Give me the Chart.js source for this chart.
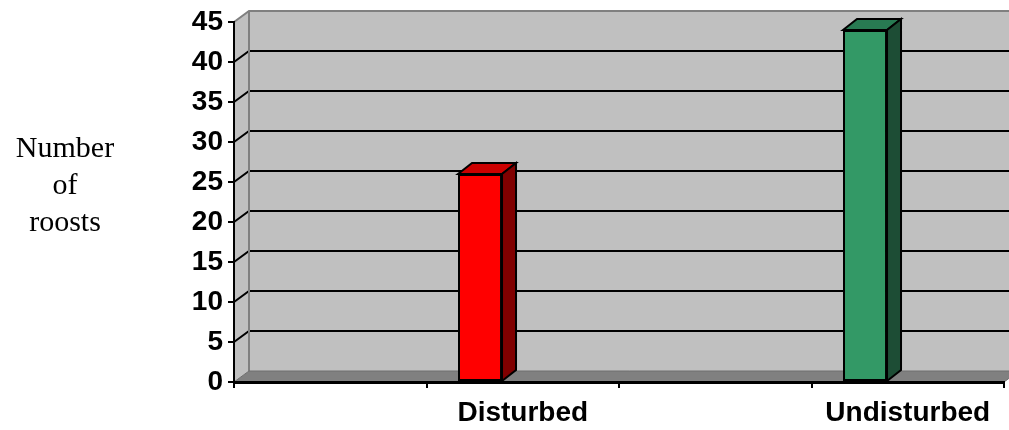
<!DOCTYPE html>
<html>
<head>
<meta charset="utf-8">
<script src="https://cdn.jsdelivr.net/npm/chart.js@4/dist/chart.umd.min.js"></script>
<style>
  html, body { margin: 0; padding: 0; background: #ffffff; }
  canvas { display: block; }
</style>
</head>
<body>
<canvas id="roostChart" width="1009" height="430"></canvas>
<script>
// Category slots along the floor; the first and third carry no label
const categories = ['', 'Disturbed', '', 'Undisturbed'];
// Number of roosts in each slot
const roosts = [null, 26, null, 44];
// Second series slot, left empty so each column sits left of its category centre
const emptySlot = [null, null, null, null];
// Value axis ticks
const yTicks = [0, 5, 10, 15, 20, 25, 30, 35, 40, 45];
// Value axis title, one word per line
const yTitleLines = ['Number', 'of', 'roosts'];

// Styling
const frontColors = ['#FF0000', '#FF0000', '#339966', '#339966'];
const topColors   = ['#CC0000', '#CC0000', '#287A52', '#287A52'];
const sideColors  = ['#800000', '#800000', '#1D4D35', '#1D4D35'];
const WALL_DX = 15, BAR_DX = 14, DEPTH_DY = 11;

function poly(ctx, pts) {
  ctx.beginPath();
  ctx.moveTo(pts[0][0], pts[0][1]);
  for (let i = 1; i < pts.length; i++) ctx.lineTo(pts[i][0], pts[i][1]);
  ctx.closePath();
}

// Walls, floor and the gridlines that run across the back wall
const backdrop = {
  id: 'backdrop',
  beforeDraw(chart) {
    const { ctx, chartArea: a, scales: { y } } = chart;
    const W = chart.width;
    const bx = a.left + WALL_DX;
    ctx.save();
    ctx.fillStyle = '#C0C0C0';
    ctx.fillRect(bx, a.top - DEPTH_DY, W - bx, a.bottom - a.top);
    poly(ctx, [[a.left, a.top], [bx, a.top - DEPTH_DY], [bx, a.bottom - DEPTH_DY], [a.left, a.bottom]]);
    ctx.fill();
    ctx.fillStyle = '#808080';
    poly(ctx, [[a.left, a.bottom], [bx, a.bottom - DEPTH_DY], [a.right + WALL_DX, a.bottom - DEPTH_DY], [a.right, a.bottom]]);
    ctx.fill();

    ctx.strokeStyle = '#000000';
    ctx.lineWidth = 2;
    yTicks.slice(1, -1).forEach(v => {
      const py = Math.round(y.getPixelForValue(v));
      ctx.beginPath();
      ctx.moveTo(a.left, py);
      ctx.lineTo(bx, py - DEPTH_DY);
      ctx.lineTo(W, py - DEPTH_DY);
      ctx.stroke();
    });

    ctx.strokeStyle = '#808080';
    ctx.lineWidth = 2;
    ctx.beginPath();
    ctx.moveTo(a.left, a.top);
    ctx.lineTo(bx, a.top - DEPTH_DY);
    ctx.lineTo(W, a.top - DEPTH_DY);
    ctx.moveTo(bx, a.top - DEPTH_DY);
    ctx.lineTo(bx, a.bottom - DEPTH_DY);
    ctx.stroke();

    ctx.strokeStyle = '#6E6E6E';
    ctx.lineWidth = 1;
    ctx.beginPath();
    ctx.moveTo(a.left, a.bottom);
    ctx.lineTo(bx, a.bottom - DEPTH_DY);
    ctx.lineTo(a.right + WALL_DX, a.bottom - DEPTH_DY);
    ctx.lineTo(a.right, a.bottom);
    ctx.stroke();

    // Horizontal value-axis title at the left
    ctx.fillStyle = '#000000';
    ctx.font = '30px "Liberation Serif", "Times New Roman", serif';
    ctx.textAlign = 'center';
    ctx.textBaseline = 'alphabetic';
    const baselines = [157, 194, 231];
    yTitleLines.forEach((t, i) => ctx.fillText(t, 65, baselines[i]));
    ctx.restore();
  }
};

// Top and side faces that give each column its depth
const columnFaces = {
  id: 'columnFaces',
  afterDatasetsDraw(chart) {
    const { ctx } = chart;
    const meta = chart.getDatasetMeta(0);
    ctx.save();
    ctx.strokeStyle = '#000000';
    ctx.lineWidth = 2;
    ctx.lineJoin = 'miter';
    meta.data.forEach((bar, i) => {
      if (roosts[i] == null) return;
      const { x, y, base, width } = bar.getProps(['x', 'y', 'base', 'width'], true);
      const l = x - width / 2, r = x + width / 2;
      ctx.fillStyle = topColors[i];
      poly(ctx, [[l, y], [l + BAR_DX, y - DEPTH_DY], [r + BAR_DX, y - DEPTH_DY], [r, y]]);
      ctx.fill(); ctx.stroke();
      ctx.fillStyle = sideColors[i];
      poly(ctx, [[r, y], [r + BAR_DX, y - DEPTH_DY], [r + BAR_DX, base - DEPTH_DY], [r, base]]);
      ctx.fill(); ctx.stroke();
    });
    ctx.restore();
  }
};

const tickFont = { family: '"Liberation Sans", Arial, sans-serif', size: 28, weight: 'bold' };

new Chart(document.getElementById('roostChart'), {
  type: 'bar',
  data: {
    labels: categories,
    datasets: [
      {
        label: 'Roosts',
        data: roosts,
        backgroundColor: frontColors,
        borderColor: '#000000',
        borderWidth: 2,
        borderSkipped: false,
        categoryPercentage: 0.888,
        barPercentage: 0.515
      },
      {
        label: 'Empty slot',
        data: emptySlot,
        categoryPercentage: 0.888,
        barPercentage: 0.515
      }
    ]
  },
  options: {
    responsive: false,
    animation: false,
    devicePixelRatio: 1,
    layout: { padding: { top: 22, right: 5, left: 0, bottom: 0 } },
    plugins: { legend: { display: false }, tooltip: { enabled: false } },
    scales: {
      x: {
        afterFit(scale) { scale.height = 48; },
        grid: { display: true, drawOnChartArea: false, drawTicks: true, tickLength: 6, color: '#000000', lineWidth: 2, offset: true },
        border: { display: true, color: '#000000', width: 3 },
        ticks: { color: '#000000', font: tickFont, padding: 8, maxRotation: 0, autoSkip: false }
      },
      y: {
        min: yTicks[0],
        max: yTicks[yTicks.length - 1],
        afterFit(scale) { scale.width = 234; },
        afterBuildTicks(scale) { scale.ticks = yTicks.map(v => ({ value: v })); },
        grid: { display: true, drawOnChartArea: false, drawTicks: true, tickLength: 6, color: '#000000', lineWidth: 2 },
        border: { display: true, color: '#000000', width: 2 },
        ticks: { color: '#000000', font: tickFont, padding: 5 }
      }
    }
  },
  plugins: [backdrop, columnFaces]
});
</script>
</body>
</html>
